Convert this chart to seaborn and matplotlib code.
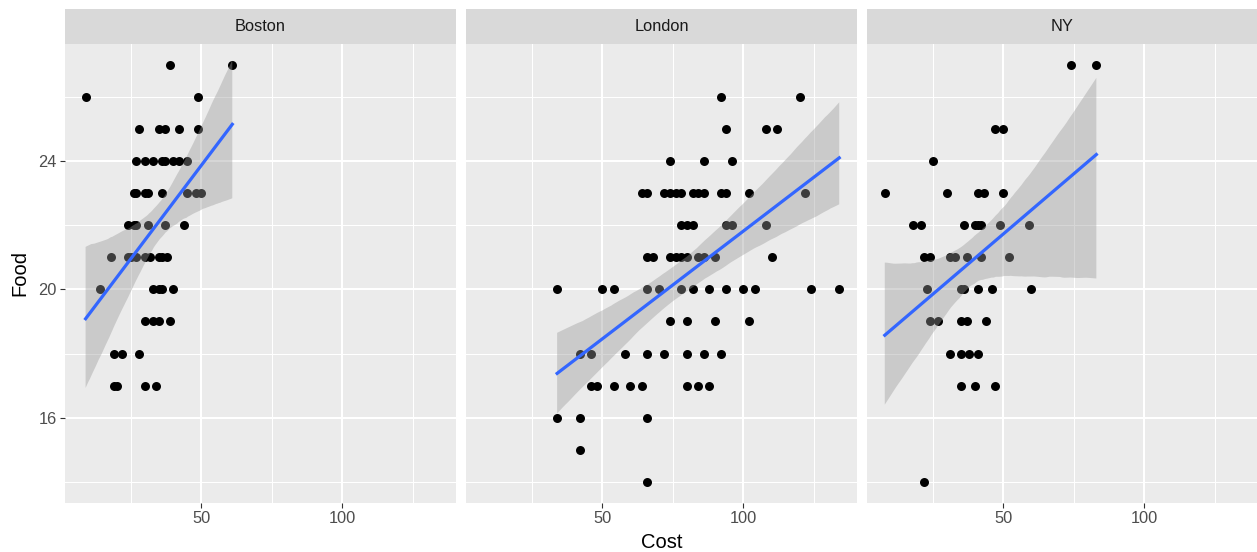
import numpy as np
import pandas as pd
import seaborn as sns
import matplotlib
matplotlib.use("Agg")
import matplotlib.pyplot as plt
from matplotlib.patches import Rectangle
from matplotlib.collections import PolyCollection
from matplotlib.ticker import FixedLocator

plt.rcParams['font.family'] = ['Liberation Sans', 'DejaVu Sans']

cities = ["Boston", "London", "NY"]

boston_cost = [39, 61,
               9, 49,
               28, 35, 37, 42, 49,
               27, 30, 33, 36, 37, 40, 42, 45,
               26, 27, 30, 31, 36, 45, 48, 50,
               24, 26, 27, 31, 37, 44,
               18, 24, 25, 27, 30, 32, 35, 36, 38,
               14, 33, 35, 36, 40,
               30, 33, 35, 39,
               19, 22, 28,
               19, 20, 30, 34]
boston_food = [27] * 2 + [26] * 2 + [25] * 5 + [24] * 8 + [23] * 8 + [22] * 6 + \
              [21] * 9 + [20] * 5 + [19] * 4 + [18] * 3 + [17] * 4

london_cost = [92, 120,
               94, 108, 112,
               74, 86, 96,
               64, 66, 72, 74, 76, 78, 82, 84, 86, 92, 94, 102, 122,
               78, 80, 82, 94, 96, 108,
               66, 68, 74, 76, 78, 80, 84, 86, 90, 110,
               34, 50, 54, 66, 70, 78, 82, 88, 94, 100, 104, 124, 134,
               74, 80, 90, 102,
               42, 46, 58, 66, 72, 80, 86, 92,
               46, 48, 54, 60, 64, 80, 84, 88,
               34, 42, 66,
               42,
               66]
london_food = [26] * 2 + [25] * 3 + [24] * 3 + [23] * 13 + [22] * 6 + [21] * 10 + \
              [20] * 13 + [19] * 4 + [18] * 8 + [17] * 8 + [16] * 3 + [15] * 1 + [14] * 1

ny_cost = [74, 83,
           47, 50,
           25,
           8, 30, 41, 43, 50,
           18, 21, 36, 40, 41, 42, 49, 59,
           22, 24, 31, 33, 37, 42, 52,
           23, 35, 36, 41, 46, 60,
           24, 27, 35, 37, 44,
           31, 35, 38, 41,
           35, 40, 47,
           22]
ny_food = [27] * 2 + [25] * 2 + [24] * 1 + [23] * 5 + [22] * 8 + [21] * 7 + \
          [20] * 6 + [19] * 5 + [18] * 4 + [17] * 3 + [14] * 1

x_major = [50, 100]
x_minor = [25, 75, 125]
y_major = [16, 20, 24]
y_minor = [14, 18, 22, 26]

df = pd.concat([
    pd.DataFrame({"City": "Boston", "Cost": boston_cost, "Food": boston_food}),
    pd.DataFrame({"City": "London", "Cost": london_cost, "Food": london_food}),
    pd.DataFrame({"City": "NY", "Cost": ny_cost, "Food": ny_food}),
], ignore_index=True)

g = sns.lmplot(data=df, x="Cost", y="Food", col="City", col_order=cities,
               height=5, aspect=0.8, ci=95, n_boot=2000, seed=3, truncate=True,
               scatter_kws=dict(color="black", s=42, linewidths=0, alpha=1),
               line_kws=dict(color="#3366FF", lw=2.3))

fig = g.figure
fig.set_size_inches(12.57, 5.52)
W, H = 1257.0, 552.0

xmin, xmax = df["Cost"].min(), df["Cost"].max()
ymin, ymax = df["Food"].min(), df["Food"].max()
xr, yr = xmax - xmin, ymax - ymin

g.set_titles("")
g.set_axis_labels("", "")

panel_left = [65, 466, 867]
pw = 391
top_px, bottom_px = 44, 502.7
ph = bottom_px - top_px
strip_h = 35

for i, (ax, name) in enumerate(zip(g.axes.flat, cities)):
    ax.set_position([panel_left[i] / W, (H - bottom_px) / H, pw / W, ph / H])
    ax.set_facecolor("#EBEBEB")
    for s in ax.spines.values():
        s.set_visible(False)
    for coll in ax.collections:
        if isinstance(coll, PolyCollection):
            coll.set_facecolor((0.6, 0.6, 0.6))
            coll.set_alpha(0.4)
            coll.set_edgecolor("none")
    ax.set_xlim(xmin - 0.05 * xr, xmax + 0.05 * xr)
    ax.set_ylim(ymin - 0.05 * yr, ymax + 0.05 * yr)
    ax.xaxis.set_major_locator(FixedLocator(x_major))
    ax.xaxis.set_minor_locator(FixedLocator(x_minor))
    ax.yaxis.set_major_locator(FixedLocator(y_major))
    ax.yaxis.set_minor_locator(FixedLocator(y_minor))
    ax.grid(which="major", color="white", lw=1.45)
    ax.grid(which="minor", color="white", lw=0.75)
    ax.set_axisbelow(True)
    ax.tick_params(which="minor", length=0)
    ax.tick_params(which="major", length=3.5, width=0.8, color="#333333",
                   labelcolor="#4D4D4D", labelsize=11.8, pad=2.5)
    ax.tick_params(axis="x", labelbottom=True)
    if i == 0:
        ax.tick_params(axis="y", labelleft=True)
    else:
        ax.tick_params(axis="y", labelleft=False, length=0)
    ax.add_patch(Rectangle((0, 1), 1, strip_h / ph, transform=ax.transAxes,
                           facecolor="#D9D9D9", edgecolor="none", clip_on=False))
    ax.text(0.5, 1 + strip_h / ph / 2, name, transform=ax.transAxes,
            ha="center", va="center", fontsize=11.8, color="#1A1A1A")

fig.text(662 / W, 1 - 542 / H, "Cost", ha="center", va="center", fontsize=14.5, color="black")
fig.text(20 / W, 1 - 273 / H, "Food", ha="center", va="center", rotation=90,
         fontsize=14.5, color="black")

fig.savefig("out.png", dpi=100)
